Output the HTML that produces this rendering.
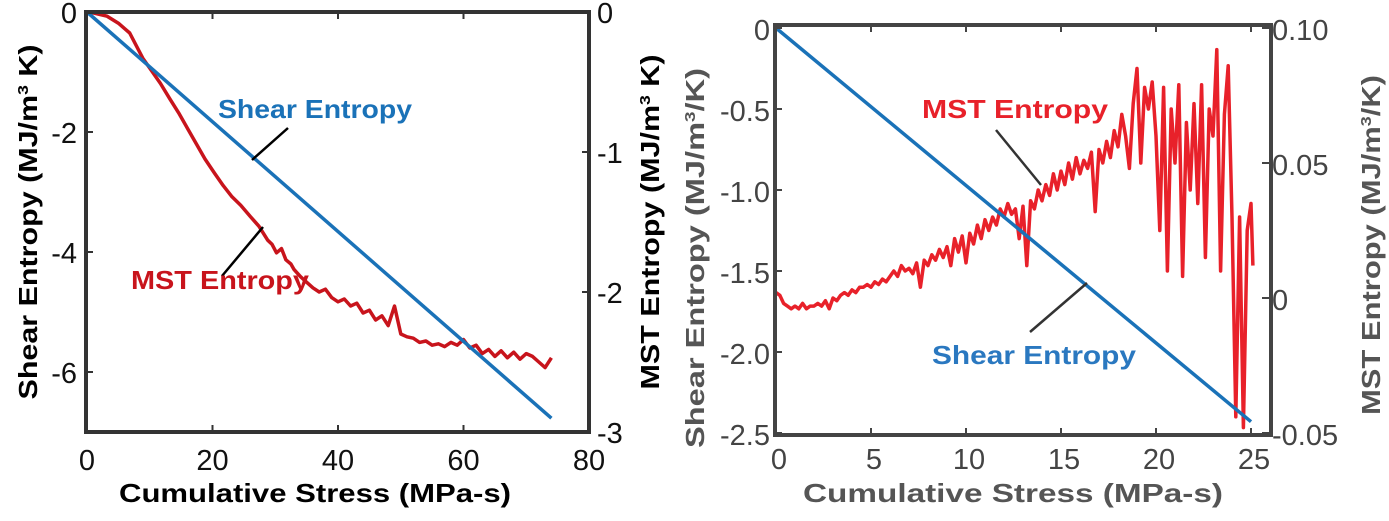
<!DOCTYPE html>
<html><head><meta charset="utf-8"><style>
body{margin:0;background:#fff;width:1389px;height:521px;overflow:hidden}
svg{display:block;font-family:"Liberation Sans",sans-serif}
.t{font-size:29px}
.b{font-weight:bold;font-size:26px}
</style></head><body>
<svg id="s" width="1389" height="521">
<g id="L"></g>
<g id="R"></g>
</svg>
<script>
// Left chart data
const L_xTicks=[0,20,40,60,80];
const L_yTicks=[0,-2,-4,-6];
const L_y2Ticks=[0,-1,-2,-3];
const L_shearX=[0,74];
const L_shearY=[0,-6.77];
const L_mstX=[0,0.4,3.2,5,6.8,8.9,10.3,11.7,13.2,14.6,16,17.4,18.8,20.3,21.7,23.1,24.5,26,27.4,28.8,29.5,30.2,31,31.7,32.5,33,34,35,36,37,38,39,40,41,42,43,44,45,46,47,48,49,50,51,52,53,54,55,56,57,58,59,60,61,62,63,64,65,66,67,68,69,70,71,72,73,74];
const L_mstY=[0,0,-0.03,-0.08,-0.15,-0.33,-0.42,-0.51,-0.62,-0.72,-0.83,-0.94,-1.05,-1.15,-1.24,-1.32,-1.38,-1.46,-1.53,-1.63,-1.66,-1.72,-1.69,-1.77,-1.8,-1.84,-1.89,-1.93,-1.97,-2.0,-1.98,-2.04,-2.07,-2.05,-2.1,-2.08,-2.15,-2.13,-2.2,-2.17,-2.24,-2.1,-2.3,-2.32,-2.33,-2.36,-2.35,-2.38,-2.37,-2.39,-2.36,-2.38,-2.34,-2.4,-2.38,-2.44,-2.41,-2.46,-2.42,-2.47,-2.43,-2.48,-2.44,-2.46,-2.5,-2.54,-2.47,-2.44];
// Right chart data
const R_xTicks=[0,5,10,15,20,25];
const R_yTicks=[0,-0.5,-1.0,-1.5,-2.0,-2.5];
const R_yLabels=["0","-0.5","-1.0","-1.5","-2.0","-2.5"];
const R_y2Ticks=[0.10,0.05,0,-0.05];
const R_y2Labels=["0.10","0.05","0","-0.05"];
const R_shearX=[0,25];
const R_shearY=[0,-2.43];
const R_mstX=[0,0.2,0.4,0.6,0.8,1,1.2,1.4,1.6,1.8,2,2.2,2.4,2.6,2.8,3,3.2,3.4,3.6,3.8,4,4.2,4.4,4.6,4.8,5,5.2,5.4,5.6,5.8,6,6.2,6.4,6.6,6.8,7,7.2,7.4,7.6,7.8,8,8.2,8.4,8.6,8.8,9,9.2,9.4,9.6,9.8,10,10.2,10.4,10.6,10.8,11,11.2,11.4,11.6,11.8,12,12.2,12.4,12.6,12.8,13,13.2,13.4,13.6,13.8,14,14.2,14.4,14.6,14.8,15,15.2,15.4,15.6,15.8,16,16.2,16.4,16.6,16.8,17,17.2,17.4,17.6,17.8,18,18.2,18.4,18.6,18.8,19,19.2,19.4,19.6,19.8,20,20.2,20.4,20.6,20.8,21,21.2,21.4,21.6,21.8,22,22.2,22.4,22.6,22.8,23,23.2,23.4,23.6,23.8,24,24.2,24.4,24.6,24.8,25,25.1];
const R_mstY=[0.002,0.001,-0.002,-0.003,-0.004,-0.003,-0.004,-0.002,-0.004,-0.003,-0.003,-0.002,-0.003,-0.001,-0.004,0.000,-0.001,0.001,0.002,0.001,0.003,0.002,0.004,0.004,0.005,0.004,0.006,0.005,0.007,0.006,0.008,0.010,0.008,0.012,0.010,0.011,0.009,0.013,0.004,0.014,0.012,0.016,0.014,0.018,0.015,0.019,0.012,0.022,0.017,0.023,0.013,0.024,0.020,0.027,0.022,0.029,0.025,0.030,0.027,0.033,0.030,0.035,0.031,0.033,0.022,0.034,0.012,0.036,0.033,0.040,0.036,0.042,0.038,0.046,0.040,0.047,0.042,0.050,0.044,0.052,0.046,0.051,0.048,0.054,0.032,0.055,0.050,0.058,0.052,0.062,0.056,0.068,0.060,0.048,0.072,0.085,0.050,0.078,0.070,0.080,0.060,0.025,0.078,0.010,0.070,0.050,0.079,0.008,0.065,0.040,0.072,0.035,0.079,0.015,0.070,0.060,0.092,0.010,0.068,0.086,0.030,-0.044,0.030,-0.048,0.025,0.035,0.012];

const NS="http://www.w3.org/2000/svg";
function mk(parent,tag,attrs,text){const e=document.createElementNS(NS,tag);for(const k in attrs)e.setAttribute(k,attrs[k]);if(text!==undefined)e.textContent=text;parent.appendChild(e);return e;}
function lin(d0,d1,r0,r1){return v=>r0+(v-d0)/(d1-d0)*(r1-r0);}
function path(xs,ys,fx,fy){return xs.map((x,i)=>(i?"L":"M")+fx(x).toFixed(1)+","+fy(ys[i]).toFixed(1)).join("");}

// LEFT
const gL=document.getElementById("L");
const lx=lin(0,80,87,589), ly=lin(0,-7,12,432), ly2=lin(0,-3,12,432);
let p=mk(gL,"path",{d:path(L_mstX,L_mstY,lx,ly2),fill:"none",stroke:"#c8141c","stroke-width":3.5,"stroke-linejoin":"round"});

p=mk(gL,"path",{d:path(L_shearX,L_shearY,lx,ly),fill:"none",stroke:"#1a72b8","stroke-width":3.5});

p=mk(gL,"rect",{x:86,y:12,width:503,height:420,fill:"none",stroke:"#333","stroke-width":4});

L_xTicks.forEach(v=>{const x=lx(v);mk(gL,"line",{x1:x,y1:432,x2:x,y2:425,stroke:"#333","stroke-width":2});mk(gL,"line",{x1:x,y1:12,x2:x,y2:19,stroke:"#333","stroke-width":2});
 const t=mk(gL,"text",{x:x,y:470,"text-anchor":"middle",class:"t",fill:"#111"},String(v));});
L_yTicks.forEach(v=>{const y=ly(v);mk(gL,"line",{x1:86,y1:y,x2:93,y2:y,stroke:"#333","stroke-width":2});
 const t=mk(gL,"text",{x:77,y:y+11,"text-anchor":"end",class:"t",fill:"#111"},String(v));});
L_y2Ticks.forEach(v=>{const y=ly2(v);mk(gL,"line",{x1:589,y1:y,x2:582,y2:y,stroke:"#333","stroke-width":2});
 const t=mk(gL,"text",{x:597,y:y+11,class:"t",fill:"#111"},String(v));});
mk(gL,"line",{x1:288,y1:128,x2:252,y2:160,stroke:"#000","stroke-width":2.5});
mk(gL,"line",{x1:263,y1:227,x2:222,y2:276,stroke:"#000","stroke-width":2.5});

// RIGHT
const gR=document.getElementById("R");
const rx=lin(0,25,776,1251), ry=lin(0,-2.5,28,433), ry2=lin(0.10,-0.05,28,433);
p=mk(gR,"path",{d:path(R_mstX,R_mstY,rx,ry2),fill:"none",stroke:"#e8212a","stroke-width":3.5,"stroke-linejoin":"round"});

p=mk(gR,"path",{d:path(R_shearX,R_shearY,rx,ry),fill:"none",stroke:"#1a72b8","stroke-width":3.5});

p=mk(gR,"rect",{x:775,y:25,width:496,height:410,fill:"none",stroke:"#444","stroke-width":4});

R_xTicks.forEach(v=>{const x=rx(v);mk(gR,"line",{x1:x,y1:435,x2:x,y2:428,stroke:"#444","stroke-width":2});mk(gR,"line",{x1:x,y1:25,x2:x,y2:32,stroke:"#444","stroke-width":2});
 const t=mk(gR,"text",{x:x+3,y:469,"text-anchor":"middle",class:"t",fill:"#444"},String(v));});
R_yTicks.forEach((v,i)=>{const y=ry(v);mk(gR,"line",{x1:775,y1:y,x2:782,y2:y,stroke:"#444","stroke-width":2});
 const t=mk(gR,"text",{x:770,y:y+12,"text-anchor":"end",class:"t",fill:"#444"},R_yLabels[i]);});
R_y2Ticks.forEach((v,i)=>{const y=ry2(v);mk(gR,"line",{x1:1271,y1:y,x2:1262,y2:y,stroke:"#444","stroke-width":2});
 const t=mk(gR,"text",{x:1272,y:y+12,class:"t",fill:"#444"},R_y2Labels[i]);});
mk(gR,"line",{x1:996,y1:130,x2:1041,y2:185,stroke:"#333","stroke-width":2.5});
mk(gR,"line",{x1:1087,y1:283,x2:1030,y2:332,stroke:"#333","stroke-width":2.5});
</script>
<svg style="position:absolute;left:0;top:0" width="1389" height="521">
<text x="315" y="502" text-anchor="middle" class="b" textLength="392" lengthAdjust="spacingAndGlyphs" fill="#000">Cumulative Stress (MPa-s)</text>
<text transform="translate(37,222) rotate(-90)" text-anchor="middle" class="b" textLength="355" lengthAdjust="spacingAndGlyphs" fill="#000">Shear Entropy (MJ/m<tspan font-size="15" dy="-9">3</tspan><tspan dy="9"> K)</tspan></text>
<text transform="translate(659,222) rotate(-90)" text-anchor="middle" class="b" textLength="335" lengthAdjust="spacingAndGlyphs" fill="#000">MST Entropy (MJ/m<tspan font-size="15" dy="-9">3</tspan><tspan dy="9"> K)</tspan></text>
<text x="218" y="118" class="b" textLength="194" lengthAdjust="spacingAndGlyphs" fill="#1a72b8">Shear Entropy</text>
<text x="131" y="289" class="b" textLength="178" lengthAdjust="spacingAndGlyphs" fill="#c8141c">MST Entropy</text>
<text x="1013" y="502" text-anchor="middle" class="b" textLength="420" lengthAdjust="spacingAndGlyphs" fill="#555">Cumulative Stress (MPa-s)</text>
<text transform="translate(704,258) rotate(-90)" text-anchor="middle" class="b" textLength="380" lengthAdjust="spacingAndGlyphs" fill="#555">Shear Entropy (MJ/m<tspan font-size="15" dy="-9">3</tspan><tspan dy="9">/K)</tspan></text>
<text transform="translate(1380,245) rotate(-90)" text-anchor="middle" class="b" textLength="340" lengthAdjust="spacingAndGlyphs" fill="#555">MST Entropy (MJ/m<tspan font-size="15" dy="-9">3</tspan><tspan dy="9">/K)</tspan></text>
<text x="922" y="118" class="b" textLength="186" lengthAdjust="spacingAndGlyphs" fill="#e8212a">MST Entropy</text>
<text x="932" y="364" class="b" textLength="204" lengthAdjust="spacingAndGlyphs" fill="#2a78c0">Shear Entropy</text>
</svg>
</body></html>
